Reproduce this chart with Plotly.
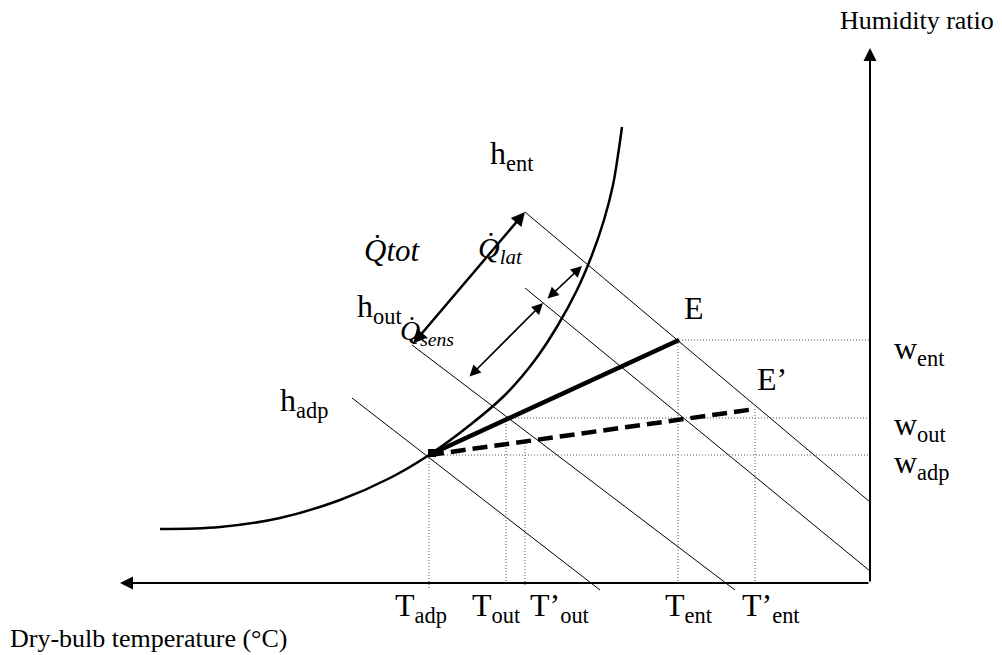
import plotly.graph_objects as go

# Diagram frame: x grows to the right, y grows downward (canvas-like units)
W, H = 1002, 655

# Saturation curve
sat_x = [160, 220, 280, 340, 390, 429, 470, 505, 535, 558, 577, 592, 604, 613, 618, 622]
sat_y = [529, 527, 518, 500, 478, 455, 425, 395, 360, 325, 290, 255, 220, 185, 155, 127]

# State points: apparatus dew point, entering air E and E'
adp = (429, 455)
ent = (679, 340)
ent2 = (755, 409)

# Constant-enthalpy lines (start, end)
h_lines = {
    "h_ent": ((525, 212), (870, 502)),
    "h_mid": ((525, 288), (870, 571)),
    "h_out": ((412, 345), (735, 590)),
    "h_adp": ((352, 398), (600, 590)),
}

# Dotted projections to the axes
w_levels = [340, 418, 455]
w_from = [679, 506, 429]
t_levels = [429, 506, 525, 678, 755]
t_from = [455, 418, 440, 340, 409]
t_to = [590, 585, 585, 584, 582]

# Axes
origin = (870, 583)
x_axis_tip = (120, 583)
y_axis_tip = (870, 48)

# Load arrows (tail, head), all double-headed
q_tot = ((412, 345), (525, 212))
q_lat = ((546, 300), (582, 266))
q_sens = ((468, 378), (543, 303))

FONT = "Liberation Serif, Times New Roman, serif"

fig = go.Figure()

fig.add_trace(go.Scatter(x=sat_x, y=sat_y, mode="lines",
                         line=dict(color="black", width=2.5, shape="spline", smoothing=1.0),
                         hoverinfo="skip"))

for (x0, y0), (x1, y1) in h_lines.values():
    fig.add_trace(go.Scatter(x=[x0, x1], y=[y0, y1], mode="lines",
                             line=dict(color="black", width=1), hoverinfo="skip"))

for y, x0 in zip(w_levels, w_from):
    fig.add_trace(go.Scatter(x=[x0, origin[0]], y=[y, y], mode="lines",
                             line=dict(color="#555", width=1, dash="1px,2px"), hoverinfo="skip"))
for x, y0, y1 in zip(t_levels, t_from, t_to):
    fig.add_trace(go.Scatter(x=[x, x], y=[y0, y1], mode="lines",
                             line=dict(color="#555", width=1, dash="1px,2px"), hoverinfo="skip"))

fig.add_trace(go.Scatter(x=[adp[0], ent[0]], y=[adp[1], ent[1]], mode="lines",
                         line=dict(color="black", width=4.5), hoverinfo="skip"))
fig.add_trace(go.Scatter(x=[adp[0], ent2[0]], y=[adp[1], ent2[1]], mode="lines",
                         line=dict(color="black", width=4.5, dash="15px,7px"), hoverinfo="skip"))
fig.add_trace(go.Scatter(x=[adp[0] + 3], y=[adp[1] - 2], mode="markers",
                         marker=dict(symbol="square", size=8, color="black"), hoverinfo="skip"))

annotations = []

def arrow(tail, head, width, size, both=False):
    annotations.append(dict(x=head[0], y=head[1], ax=tail[0], ay=tail[1],
                            xref="x", yref="y", axref="x", ayref="y",
                            showarrow=True, arrowhead=2, arrowsize=size,
                            arrowwidth=width, arrowcolor="black",
                            arrowside="end+start" if both else "end",
                            startarrowhead=2, startarrowsize=size,
                            standoff=0, startstandoff=0, text=""))

arrow(origin, x_axis_tip, 2, 1.3)
arrow(origin, y_axis_tip, 2, 1.3)
arrow(*q_tot, 2.5, 1.1, both=True)
arrow(*q_lat, 1.6, 1.4, both=True)
arrow(*q_sens, 1.6, 1.4, both=True)

# Text labels: (text, x, y, size, anchor)
labels = [
    ("Humidity ratio", 917, 20, 26, "center"),
    ("Dry-bulb temperature (°C)", 8, 638, 26, "left"),
    ("h<sub>ent</sub>", 488, 155, 32, "left"),
    ("h<sub>out</sub>", 355, 308, 32, "left"),
    ("h<sub>adp</sub>", 278, 402, 32, "left"),
    ("<i>Q\u0307tot</i>", 362, 250, 31, "left"),
    ("<i>Q\u0307<sub>lat</sub></i>", 476, 250, 30, "left"),
    ("<i>Q\u0307<sub>sens</sub></i>", 398, 332, 28, "left"),
    ("E", 682, 308, 32, "left"),
    ("E\u2019", 755, 379, 32, "left"),
    ("w<sub>ent</sub>", 892, 350, 32, "left"),
    ("w<sub>out</sub>", 892, 426, 32, "left"),
    ("w<sub>adp</sub>", 892, 464, 32, "left"),
    ("T<sub>adp</sub>", 393, 607, 32, "left"),
    ("T<sub>out</sub>", 470, 607, 32, "left"),
    ("T\u2019<sub>out</sub>", 528, 607, 32, "left"),
    ("T<sub>ent</sub>", 663, 607, 32, "left"),
    ("T\u2019<sub>ent</sub>", 740, 607, 32, "left"),
]
for text, x, y, size, anchor in labels:
    annotations.append(dict(x=x, y=y, xref="x", yref="y", text=text, showarrow=False,
                            xanchor=anchor, yanchor="middle",
                            font=dict(family=FONT, size=size, color="black")))

fig.update_layout(
    width=W, height=H,
    margin=dict(l=0, r=0, t=0, b=0),
    paper_bgcolor="white", plot_bgcolor="white",
    showlegend=False,
    xaxis=dict(range=[0, W], visible=False, fixedrange=True),
    yaxis=dict(range=[H, 0], visible=False, fixedrange=True),
    annotations=annotations,
)

fig.write_html("out.html")
